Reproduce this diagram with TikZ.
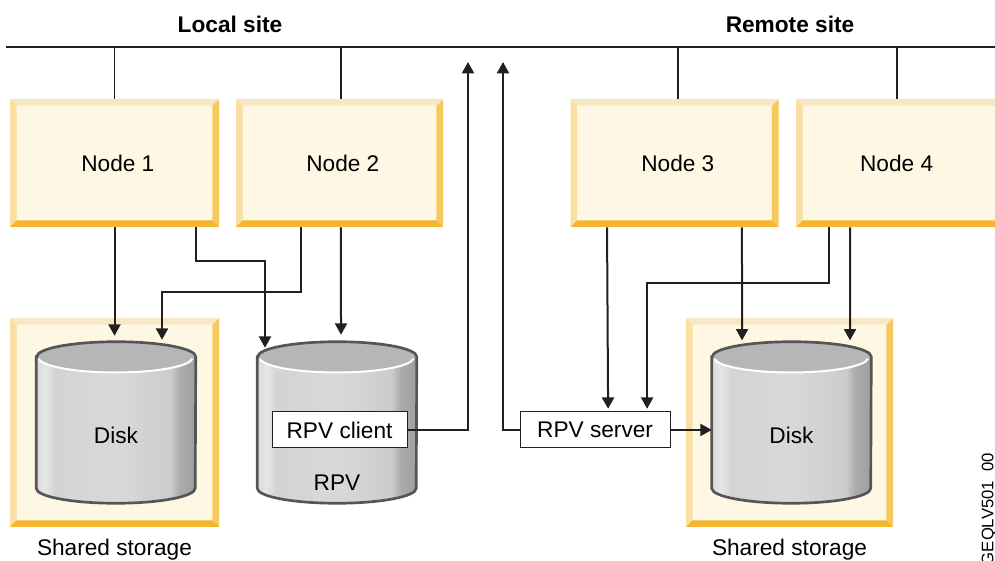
\documentclass[tikz,border=0pt]{standalone}
\usepackage{fontspec}
\setmainfont{Liberation Sans}
\usetikzlibrary{positioning,arrows.meta}

\definecolor{boxface}{HTML}{FEF7E4}
\definecolor{boxtop}{HTML}{F6E8C4}
\definecolor{boxleft}{HTML}{F9DFA2}
\definecolor{boxright}{HTML}{F6C95E}
\definecolor{boxbottom}{HTML}{F4B52F}
\definecolor{diskedge}{HTML}{555555}
\definecolor{disktop}{HTML}{B6B6B6}
\definecolor{ink}{HTML}{231F20}

\pgfdeclarehorizontalshading{diskshade}{100bp}{color(0bp)=(black!14); color(25bp)=(black!14);
  color(28bp)=(black!10); color(31bp)=(black!17); color(50bp)=(black!15); color(67bp)=(black!20);
  color(70bp)=(black!33); color(75bp)=(black!38); color(100bp)=(black!38)}

\def\ppbb{path picture bounding box}
\tikzset{
  sitebox/.style={shape=rectangle, fill=boxface, minimum height=96pt,
    path picture={
      \fill[boxleft] (\ppbb.north west) -- ([shift={(5pt,-5pt)}]\ppbb.north west)
        -- ([shift={(5pt,5pt)}]\ppbb.south west) -- (\ppbb.south west) -- cycle;
      \fill[boxright] (\ppbb.north east) -- ([shift={(-5pt,-5pt)}]\ppbb.north east)
        -- ([shift={(-5pt,5pt)}]\ppbb.south east) -- (\ppbb.south east) -- cycle;
      \fill[boxtop] (\ppbb.north west) -- ([shift={(5pt,-5pt)}]\ppbb.north west)
        -- ([shift={(-5pt,-5pt)}]\ppbb.north east) -- (\ppbb.north east) -- cycle;
      \fill[boxbottom] (\ppbb.south west) -- ([shift={(5pt,5pt)}]\ppbb.south west)
        -- ([shift={(-5pt,5pt)}]\ppbb.south east) -- (\ppbb.south east) -- cycle;
    }},
  diskbox/.style={shape=rectangle, minimum width=119.25pt, minimum height=120.75pt},
  tagbox/.style={draw=ink, fill=white, line width=0.8pt, minimum height=27pt, inner xsep=8pt},
  wire/.style={draw=ink, line width=1.1pt},
  arr/.style={draw=ink, line width=1.5pt, -{Triangle[length=8.5pt,width=9pt]}},
}

% cylinder drawn over a diskbox node
\newcommand{\drawdisk}[1]{%
  \shade[shading=diskshade] ([yshift=-11.25pt]#1.north west) -- ([yshift=11.25pt]#1.south west)
    arc[start angle=180, end angle=360, x radius=59.625pt, y radius=11.25pt]
    -- ([yshift=-11.25pt]#1.north east)
    arc[start angle=0, end angle=180, x radius=59.625pt, y radius=11.25pt] -- cycle;
  \fill[disktop] ([yshift=-11.25pt]#1.north) ellipse[x radius=59.625pt, y radius=11.25pt];
  \draw[white, line width=1.5pt] ([shift={(2pt,-12.8pt)}]#1.north west)
    arc[start angle=185, end angle=355, x radius=57.8pt, y radius=11.25pt];
  \draw[diskedge, line width=2pt] ([yshift=-11.25pt]#1.north west) -- ([yshift=11.25pt]#1.south west)
    arc[start angle=180, end angle=360, x radius=59.625pt, y radius=11.25pt]
    -- ([yshift=-11.25pt]#1.north east)
    arc[start angle=0, end angle=180, x radius=59.625pt, y radius=11.25pt] -- cycle;
}

\begin{document}
\begin{tikzpicture}[x=0.75pt, y=0.75pt, font=\fontsize{17}{20}\selectfont]
\useasboundingbox (0,0) rectangle (995,560);
\clip (0,0) rectangle (995,560);

% sites and network
\node (localtitle) [font=\fontsize{17}{20}\selectfont\bfseries] at (230,536) {Local site};
\node (remotetitle) [font=\fontsize{17}{20}\selectfont\bfseries] at (790,536) {Remote site};
\coordinate (busL) at (6,513);
\coordinate (busR) at (995,513);
\draw[wire] (busL) -- (busR);

\node (node1) [sitebox, minimum width=156.75pt] at (114.5,397) {\hspace*{5pt}Node 1};
\node (node2) [sitebox, minimum width=155.25pt] at (339.5,397) {\hspace*{5pt}Node 2};
\node (node3) [sitebox, minimum width=156pt] at (674.5,397) {\hspace*{5pt}Node 3};
\node (node4) [sitebox, minimum width=156pt] at (900,397) {Node 4\hspace*{5pt}};

\draw[wire] (node1.north) -- (node1.north |- busL);
\draw[wire] ([xshift=1.1pt]node2.north) -- ([xshift=1.1pt]node2.north |- busL);
\draw[wire] ([xshift=2.6pt]node3.north) -- ([xshift=2.6pt]node3.north |- busL);
\draw[wire] ([xshift=-2.25pt]node4.north) -- ([xshift=-2.25pt]node4.north |- busL);

% storage
\node (lstore) [sitebox, minimum width=156.75pt, minimum height=156.75pt] at (114.5,137.5) {};
\node (rstore) [sitebox, minimum width=155.25pt, minimum height=156.75pt] at (789.5,137.5) {};
\node (lstorename) [below=5.5pt of lstore] {Shared storage};
\node (rstorename) [below=5.5pt of rstore] {Shared storage};

\node (ldisk) [diskbox] at (116,137.5) {};
\node (rpv) [diskbox] at (337,137.5) {};
\node (rdisk) [diskbox] at (791.5,137.5) {};
\drawdisk{ldisk}
\drawdisk{rpv}
\drawdisk{rdisk}
\node (ldisktext) at ([yshift=-9.4pt]ldisk.center) {Disk};
\node (rdisktext) at ([yshift=-9.4pt]rdisk.center) {Disk};
\node (rpvtext) at ([yshift=-45.4pt]rpv.center) {RPV};

\node (client) [tagbox, minimum width=101.25pt] at ([xshift=1.9pt,yshift=-5.6pt]rpv.center) {RPV client};
\node (server) [tagbox, minimum width=112.5pt, right=84pt of client] {RPV server};

\coordinate (upleft) at (468,498);
\coordinate (upright) at (503,498);

% connections
\draw[arr] (node1.south) -- ([yshift=4.5pt]node1.south |- ldisk.north);
\draw[arr] ([xshift=61.1pt]node1.south) -- ++(0,-34) -| ([shift={(-54pt,-4.5pt)}]rpv.north);
\draw[arr] ([xshift=-28.9pt]node2.south) -- ++(0,-65) -| ([shift={(34.5pt,1.5pt)}]ldisk.north);
\draw[arr] ([xshift=1.1pt]node2.south) -- ([xshift=3pt,yshift=5.25pt]rpv.north);
\draw[arr] (client.east) -| (upleft);
\draw[arr] (server.west) -| (upright);
\draw[arr] ([xshift=-50.6pt]node3.south) -- ([xshift=9.75pt,yshift=2pt]server.north);
\draw[arr] ([xshift=50.6pt]node3.south) -- ([xshift=-37.1pt,yshift=1pt]rdisk.north);
\draw[arr] ([xshift=-53.25pt]node4.south) -- ++(0,-56) -| ([shift={(39pt,2pt)}]server.north);
\draw[arr] ([xshift=-37.5pt]node4.south) -- ([xshift=43.9pt,yshift=1pt]rdisk.north);
\draw[arr] (server.east) -- (server.east -| rdisk.west);

\node (figid) [rotate=90, anchor=south east, inner sep=0pt, font=\fontsize{12.5}{14}\selectfont] at (997,107) {GEQLV501\_00};
\end{tikzpicture}
\end{document}
